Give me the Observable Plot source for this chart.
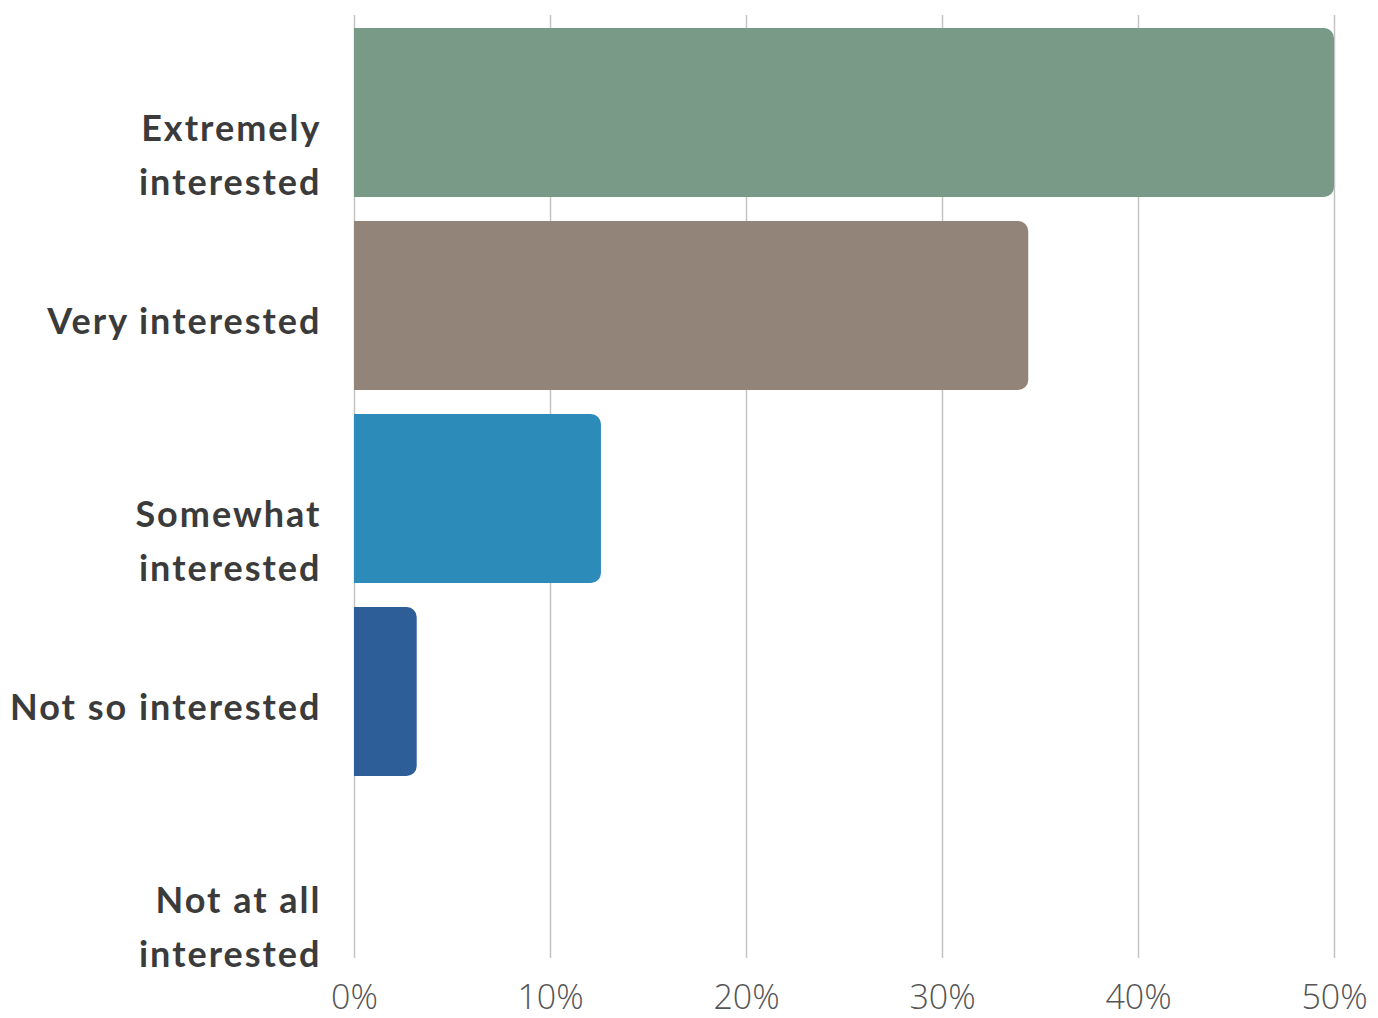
<!DOCTYPE html>
<html>
<head>
<meta charset="utf-8">
<script src="https://cdn.jsdelivr.net/npm/d3@7"></script>
<script src="https://cdn.jsdelivr.net/npm/@observablehq/plot@0.6"></script>
<style>
  html, body { margin: 0; padding: 0; background: #fff; }
  #chart svg { display: block; }
</style>
</head>
<body>
<div id="chart"></div>
<script>
const categories = ["Extremely interested", "Very interested", "Somewhat interested", "Not so interested", "Not at all interested"];
const labels = ["Extremely\ninterested", "Very interested", "Somewhat\ninterested", "Not so interested", "Not at all\ninterested"];
const values = [50.0, 34.4, 12.6, 3.2, 0];
const colors = ["#789A87", "#928478", "#2D8BBA", "#2E5E98", "#7F7F7F"];
const xTicks = [0, 10, 20, 30, 40, 50];

const data = categories.map((c, i) => ({category: c, label: labels[i], value: values[i], color: colors[i]}));

const chart = Plot.plot({
  width: 1378,
  height: 1018,
  marginLeft: 354,
  marginRight: 44,
  marginTop: 15,
  marginBottom: 60,
  style: {background: "#fff"},
  x: {domain: [0, 50], ticks: xTicks, tickFormat: d => d + "%"},
  y: {domain: categories, range: [15, 981], paddingInner: 0.126, paddingOuter: 0.062, axis: null},
  marks: [
    Plot.gridX(xTicks, {stroke: "#c4c4c4", strokeOpacity: 1, strokeWidth: 1.5}),
    Plot.barX(data.filter(d => d.value > 0), {x: "value", y: "category", fill: "color", rx: 10}),
    Plot.barX(data.filter(d => d.value > 0), {x1: 0, x2: d => d.value / 2, y: "category", fill: "color"}),
    Plot.text(data, {
      x: 0, y: "category", text: "label",
      textAnchor: "end", lineAnchor: "top", dx: -33, dy: -10,
      lineHeight: 1.5, fontSize: 36, fontWeight: 700,
      fontFamily: "Lato, 'Noto Sans', sans-serif", fill: "#3b3b3b",
      style: "letter-spacing: 2px"
    }),
    Plot.axisX({
      ticks: xTicks, tickFormat: d => d + "%", tickSize: 0, tickPadding: 26,
      fontSize: 34, fontFamily: "'Open Sans', sans-serif", fontWeight: 300,
      fill: "#555", label: null
    })
  ]
});
chart.querySelectorAll("text").forEach(t => {
  if (t.closest("g[aria-label='text']")) t.style.letterSpacing = "2px";
});
document.getElementById("chart").appendChild(chart);
</script>
</body>
</html>
